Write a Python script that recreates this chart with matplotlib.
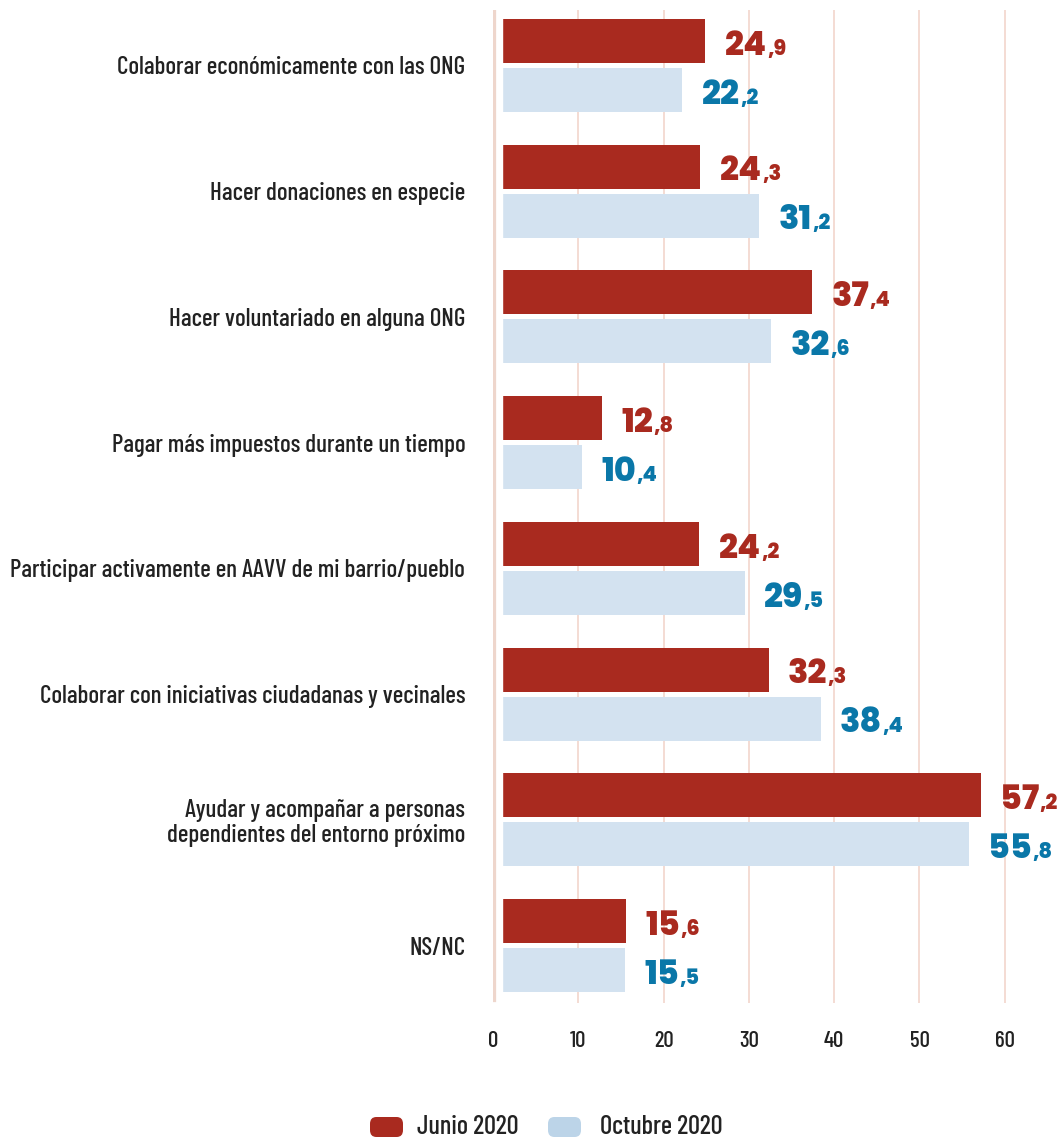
import matplotlib
matplotlib.use("Agg")
import matplotlib.pyplot as plt
from matplotlib.patches import FancyBboxPatch
import numpy as np

# Datos del gráfico
categorias = [
    "Colaborar económicamente con las ONG",
    "Hacer donaciones en especie",
    "Hacer voluntariado en alguna ONG",
    "Pagar más impuestos durante un tiempo",
    "Participar activamente en AAVV de mi barrio/pueblo",
    "Colaborar con iniciativas ciudadanas y vecinales",
    "Ayudar y acompañar a personas\ndependientes del entorno próximo",
    "NS/NC",
]
junio = [24.9, 24.3, 37.4, 12.8, 24.2, 32.3, 57.2, 15.6]
octubre = [22.2, 31.2, 32.6, 10.4, 29.5, 38.4, 55.8, 15.5]
series = ["Junio 2020", "Octubre 2020"]
ticks = [0, 10, 20, 30, 40, 50, 60]

rojo = "#a92a1f"
azul_barra = "#d3e2f0"
azul_leyenda = "#bcd4e8"
azul_texto = "#0a77a8"
rejilla = "#f3d9d0"
eje = "#eed6cc"
gris = "#222222"

narrow = ["Barlow Condensed", "DejaVu Sans"]
cifras = ["Poppins", "DejaVu Sans"]

fig = plt.figure(figsize=(10.58, 11.39), dpi=100)
ax = fig.add_axes([493 / 1058, 1 - 1003 / 1139, (1050 - 493) / 1058, (1003 - 10) / 1139])

y = np.arange(len(categorias))
off = 0.195
h = 0.35

ax.barh(y - off, junio, height=h, color=rojo, zorder=2)
ax.barh(y + off, octubre, height=h, color=azul_barra, zorder=2)

# hueco blanco entre el eje y las barras
ax.axvspan(0, 1.0, color="white", zorder=3)
ax.axvline(0, ymin=(1003 - 999) / (1003 - 10), ymax=1, color=eje, lw=4.5, zorder=4)

ax.set_xlim(0, 65.3)
ax.set_ylim(len(categorias) - 1 + 0.457, -0.44)

ax.set_xticks(ticks)
ax.set_xticklabels([str(t) for t in ticks], family=narrow, fontweight=500, fontsize=16.5, color=gris)
ax.tick_params(axis="x", length=0, pad=20)
for t in ticks[1:]:
    ax.axvline(t, color=rejilla, lw=1.3, zorder=1)

ax.set_yticks(y)
ax.set_yticklabels(categorias, family=narrow, fontweight=500, fontsize=18, color=gris, linespacing=1.1)
ax.tick_params(axis="y", length=0, pad=20)

for s in ax.spines.values():
    s.set_visible(False)


def etiqueta(valor, yy, color):
    ent, dec = f"{valor:.1f}".split(".")
    big = ax.annotate(ent, xy=(valor, yy + 0.11), xytext=(14, 0), textcoords="offset points",
                      ha="left", va="baseline", fontsize=24, fontweight=800, family=cifras,
                      color=color, zorder=5)
    ax.annotate("," + dec, xy=(1, yy + 0.11), xycoords=(big, "data"),
                ha="left", va="baseline", fontsize=15, fontweight=800, family=cifras,
                color=color, zorder=5)


for i in range(len(categorias)):
    etiqueta(junio[i], y[i] - off, rojo)
    etiqueta(octubre[i], y[i] + off, azul_texto)

# leyenda
W, H = 1058, 1139
for x0, col, txt, tx in [(370, rojo, series[0], 417), (548, azul_leyenda, series[1], 600)]:
    box = FancyBboxPatch((x0 / W, 1 - 1139 / H + 2 / H), 33 / W, 20 / H,
                         boxstyle="round,pad=0,rounding_size=0.006", transform=fig.transFigure,
                         facecolor=col, edgecolor="none")
    fig.patches.append(box)
    fig.text(tx / W, 1 - 1127 / H, txt, family=narrow, fontweight=500, fontsize=19,
             color=gris, va="center", ha="left")

fig.savefig("out.png", dpi=100)
